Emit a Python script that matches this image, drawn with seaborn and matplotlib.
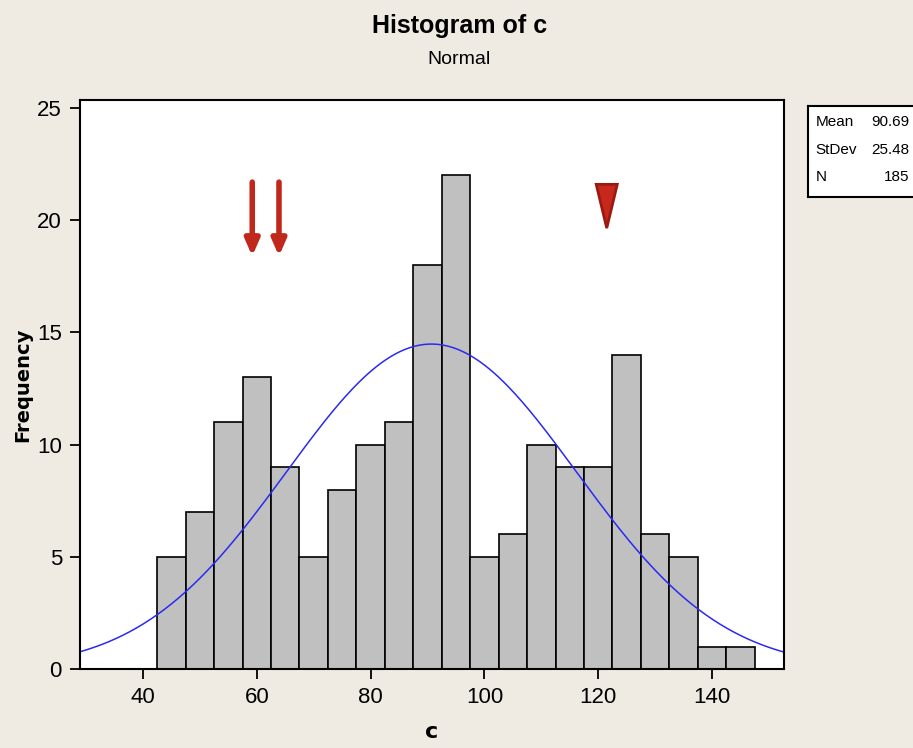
import numpy as np
import pandas as pd
import seaborn as sns
import matplotlib
matplotlib.use("Agg")
import matplotlib.pyplot as plt
from matplotlib.patches import Polygon

# ---- data ----
bin_edges = [42.5, 47.5, 52.5, 57.5, 62.5, 67.5, 72.5, 77.5, 82.5, 87.5, 92.5,
             97.5, 102.5, 107.5, 112.5, 117.5, 122.5, 127.5, 132.5, 137.5, 142.5, 147.5]
counts = [5, 7, 11, 13, 9, 5, 8, 10, 11, 18, 22, 5, 6, 10, 9, 9, 14, 6, 5, 1, 1]
mean_val = 90.69
std_val = 25.48
n_val = 185
xticks = [40, 60, 80, 100, 120, 140]
yticks = [0, 5, 10, 15, 20, 25]
arrow_x = [59.2, 63.9]
marker_x = 121.5

sns.set_theme(style="white")
plt.rcParams['font.family'] = ['Liberation Sans', 'DejaVu Sans']
plt.rcParams['text.color'] = 'black'

bg = "#efebe2"
fig = plt.figure(figsize=(9.13, 7.48), dpi=100, facecolor=bg)
ax = fig.add_axes([80 / 913, 1 - 669 / 748, (784 - 80) / 913, (669 - 100) / 748])
ax.set_facecolor("white")

centers = [(bin_edges[i] + bin_edges[i + 1]) / 2 for i in range(len(counts))]
df = pd.DataFrame({"c": centers, "w": counts})
sns.histplot(data=df, x="c", weights="w", bins=bin_edges, ax=ax,
             color="#c0c0c0", edgecolor="black", linewidth=1.2, alpha=1)

xlo, xhi = 28.93, 152.65
xs = np.linspace(xlo, xhi, 300)
binw = 5.0
ys = n_val * binw / (std_val * np.sqrt(2 * np.pi)) * np.exp(-0.5 * ((xs - mean_val) / std_val) ** 2)
sns.lineplot(x=xs, y=ys, ax=ax, color="#2a2af0", linewidth=1.1)

ax.set_xlim(xlo, xhi)
ax.set_ylim(0, 25.36)
ax.set_xticks(xticks)
ax.set_yticks(yticks)
ax.tick_params(axis="both", direction="out", length=7, width=1.3, color="black",
               labelcolor="black", labelsize=16, pad=6, bottom=True, left=True)
for s in ax.spines.values():
    s.set_visible(True)
    s.set_color("black")
    s.set_linewidth(1.5)

ax.set_xlabel("c", fontsize=16, fontweight="bold", color="black", family=['DejaVu Sans'])
ax.set_ylabel("Frequency", fontsize=14, fontweight="bold", color="black", family=['DejaVu Sans'])
ax.xaxis.set_label_coords(0.5, (669 - 722) / 569)
ax.yaxis.set_label_coords((32 - 80) / 704, 0.5)

fig.text(0.503, 0.965, "Histogram of c", ha="center", va="center", fontsize=18, fontweight="bold")
fig.text(0.503, 0.921, "Normal", ha="center", va="center", fontsize=14)

# red arrows
red = "#c0281c"
for xa in arrow_x:
    ax.annotate("", xy=(xa, 18.4), xytext=(xa, 21.7),
                arrowprops=dict(arrowstyle="-|>,head_width=0.35,head_length=0.8",
                                color=red, lw=4, shrinkA=0, shrinkB=0))
tri = Polygon([[marker_x - 1.85, 21.6], [marker_x + 1.85, 21.6], [marker_x, 19.65]],
              closed=True, facecolor="#c8281c", edgecolor="#9a1a12", linewidth=2)
ax.add_patch(tri)

# stats box
bx = fig.add_axes([808 / 913, 1 - 197 / 748, 0.2, 91 / 748])
bx.set_facecolor("white")
bx.set_xticks([]); bx.set_yticks([])
for s in bx.spines.values():
    s.set_color("black"); s.set_linewidth(1.5)
bx.set_xlim(0, 1); bx.set_ylim(0, 1)
labels = ["Mean", "StDev", "N"]
vals = [f"{mean_val:.2f}", f"{std_val:.2f}", f"{n_val}"]
for i, (l, v) in enumerate(zip(labels, vals)):
    yy = 0.82 - i * 0.3
    bx.text(0.04, yy, l, fontsize=11, va="center", ha="left")
    bx.text(0.555, yy, v, fontsize=11, va="center", ha="right")

fig.savefig("out.png", dpi=100, facecolor=bg)
